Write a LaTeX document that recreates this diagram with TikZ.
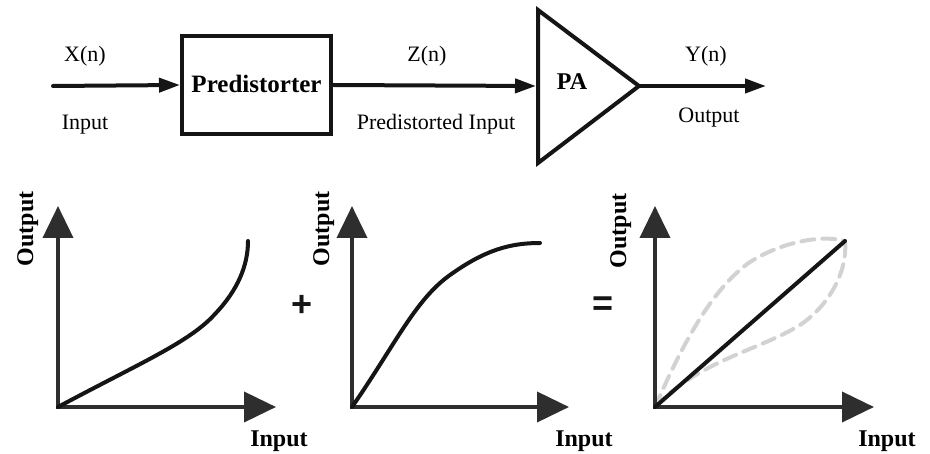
\documentclass[tikz,border=0pt]{standalone}
\usepackage{fontspec}
\setmainfont{Liberation Serif}
\setsansfont{Liberation Sans}
\usetikzlibrary{arrows.meta}
\definecolor{axisc}{HTML}{2E2E2E}
\definecolor{curvec}{HTML}{151515}
\definecolor{dashc}{HTML}{D2D2D2}
\begin{document}
\begin{tikzpicture}[x=1pt,y=-1pt,
  thick line/.style={line width=4pt,draw=curvec},
  flowarrow/.style={thick line,-{Triangle[length=21pt,width=14pt]}},
  axes/.style={line width=4pt,draw=axisc,line join=miter,
     {Triangle[length=32pt,width=30pt]}-{Triangle[length=32pt,width=30pt]}},
  curve/.style={line width=4pt,draw=curvec,line cap=round},
  dashcurve/.style={line width=4pt,draw=dashc,dash pattern=on 13pt off 8pt,line cap=round},
  lbl/.style={font=\fontsize{22}{26}\selectfont,anchor=base,inner sep=0pt},
  blbl/.style={font=\fontsize{24}{28}\selectfont\bfseries,anchor=base,inner sep=0pt},
  vlbl/.style={font=\fontsize{24}{28}\selectfont\bfseries,anchor=base,inner sep=0pt,rotate=90},
  opsym/.style={font=\fontsize{36}{40}\selectfont\sffamily\bfseries,inner sep=0pt,text=curvec}]
\useasboundingbox (0,0) rectangle (930,454);
% ---------- top block diagram ----------
\coordinate (in) at (53,86);
\node[thick line,minimum width=149pt,minimum height=98pt,inner sep=0pt] (pd) at (256.5,85) {};
\node[blbl,font=\fontsize{25}{30}\selectfont\bfseries] (pdtext) at (256.5,93) {Predistorter};
\coordinate (t1) at (538,10);
\coordinate (t2) at (538,163);
\coordinate (tap) at (639,86);
\coordinate (tin) at (536,86);
\coordinate (out) at (766,86);
\draw[thick line,line join=miter] (t1) -- (tap) -- (t2) -- cycle;
\node[blbl] (pa) at (572,90) {PA};
\draw[flowarrow,line cap=round] (in) -- (pd.west);
\draw[flowarrow] (pd.east) -- (tin);
\draw[flowarrow] (tap) -- (out);
\node[lbl] (xn) at (85,62) {X(n)};
\node[lbl] (inl) at (85,130) {Input};
\node[lbl] (zn) at (427,62) {Z(n)};
\node[lbl] (pil) at (436,130) {Predistorted Input};
\node[lbl] (yn) at (706,62) {Y(n)};
\node[lbl] (outl) at (709,123) {Output};
% ---------- graph 1 ----------
\coordinate (o1) at (58,407);
\coordinate (y1) at (58,206);
\coordinate (x1) at (276,407);
\draw[axes] (y1) -- (o1) -- (x1);
\draw[curve] (o1) .. controls (140,363) and (190,342) .. (215,314)
   .. controls (238,290) and (248,265) .. (248,241);
\node[vlbl] (g1y) at (33,229) {Output};
\node[blbl] (g1x) at (279,447) {Input};
\node[opsym] (plus) at (302,306) {+};
% ---------- graph 2 ----------
\coordinate (o2) at (352,407);
\coordinate (y2) at (352,206);
\coordinate (x2) at (569,407);
\draw[axes] (y2) -- (o2) -- (x2);
\draw[curve] (o2) .. controls (395,345) and (415,300) .. (450,275)
   .. controls (485,250) and (510,243) .. (540,243);
\node[vlbl] (g2y) at (329,229) {Output};
\node[blbl] (g2x) at (584,447) {Input};
\node[opsym] (eq) at (603,306) {=};
% ---------- graph 3 ----------
\coordinate (o3) at (655,407);
\coordinate (y3) at (655,206);
\coordinate (x3) at (874,407);
\coordinate (e3) at (845,241);
\draw[dashcurve] (o3) .. controls (680,350) and (710,290) .. (750,262)
   .. controls (785,240) and (825,235) .. (e3);
\draw[dashcurve] (o3) .. controls (700,360) and (760,350) .. (800,325)
   .. controls (830,305) and (848,270) .. (e3);
\draw[axes] (y3) -- (o3) -- (x3);
\draw[curve] (o3) -- (e3);
\node[vlbl] (g3y) at (626,231) {Output};
\node[blbl] (g3x) at (887,447) {Input};
\end{tikzpicture}
\end{document}
